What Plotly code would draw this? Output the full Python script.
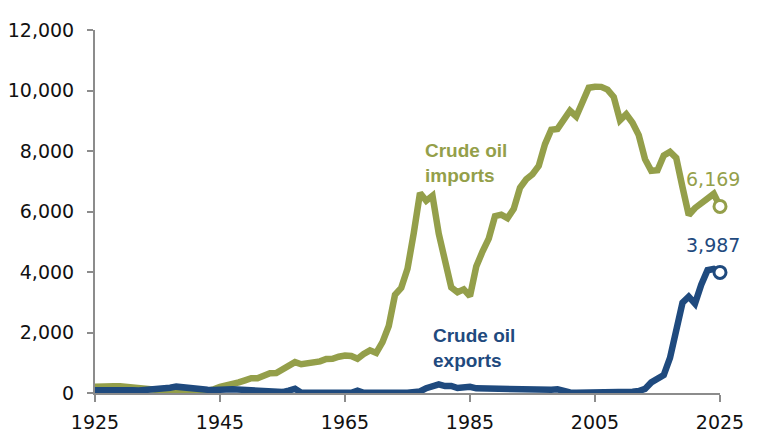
import plotly.graph_objects as go

# US crude oil imports / exports, thousand barrels per day
years = list(range(1925, 2026))

imports = [
    205, 195, 190, 225, 220, 200, 150, 120, 90, 95,
    85, 80, 60, 40, 60, 80, 110, 30, 50, 120,
    200, 240, 270, 350, 420, 490, 490, 570, 650, 660,
    780, 930, 1020, 950, 965, 1015, 1045, 1125, 1130, 1200,
    1240, 1225, 1130, 1290, 1410, 1325, 1680, 2215, 3245, 3475,
    4105, 5285, 6615, 6355, 6520, 5265, 4395, 3490, 3330, 3425,
    3200, 4180, 4675, 5105, 5845, 5895, 5780, 6085, 6785, 7065,
    7230, 7510, 8225, 8705, 8730, 9070, 9330, 9140, 9665, 10090,
    10125, 10120, 10030, 9785, 9015, 9215, 8935, 8525, 7730, 7345,
    7365, 7850, 7970, 7770, 6800, 5880, 6115, 6280, 6480, 6585,
    6169,
]

exports = [
    95, 100, 95, 100, 120, 100, 90, 80, 90, 105,
    120, 140, 175, 210, 190, 140, 100, 90, 110, 100,
    90, 115, 125, 110, 90, 95, 80, 70, 55, 35,
    30, 80, 140, 10, 10, 8, 10, 5, 5, 5,
    5, 5, 75, 5, 5, 15, 5, 5, 5, 5,
    5, 10, 50, 160, 235, 285, 230, 235, 165, 180,
    205, 155, 150, 155, 140, 110, 115, 90, 100, 100,
    95, 110, 110, 110, 120, 50, 20, 10, 10, 25,
    30, 25, 25, 30, 45, 40, 45, 65, 135, 350,
    465, 590, 1160, 2050, 2985, 3185, 2955, 3580, 4060, 4100,
    3987,
]

x_ticks = [1925, 1945, 1965, 1985, 2005, 2025]
y_ticks = [0, 2000, 4000, 6000, 8000, 10000, 12000]

GREEN = "#949F4A"
BLUE = "#1F4A7E"
AXIS = "#8C8C8C"
FONT = "DejaVu Sans"
LABEL_FONT = "Liberation Sans"

fig = go.Figure()

for vals, color in [(imports, GREEN), (exports, BLUE)]:
    fig.add_trace(go.Scatter(
        x=years, y=vals, mode="lines",
        line=dict(color=color, width=6.5),
        hoverinfo="skip", showlegend=False, cliponaxis=False,
    ))
    # last value: hollow marker
    fig.add_trace(go.Scatter(
        x=[years[-1]], y=[vals[-1]], mode="markers",
        marker=dict(size=12, color="white", line=dict(color=color, width=3)),
        hoverinfo="skip", showlegend=False, cliponaxis=False,
    ))
    fig.add_annotation(x=years[-1], y=vals[-1], text=f"{vals[-1]:,}", showarrow=False,
                       xshift=-7, yshift=27,
                       font=dict(family=FONT, size=19, color=color))

fig.add_annotation(x=1977.5, y=7620, text="<b>Crude oil<br>imports</b>", showarrow=False,
                   xanchor="left", yanchor="middle", align="left",
                   font=dict(family=LABEL_FONT, size=19, color=GREEN))
fig.add_annotation(x=1978.8, y=1490, text="<b>Crude oil<br>exports</b>", showarrow=False,
                   xanchor="left", yanchor="middle", align="left",
                   font=dict(family=LABEL_FONT, size=19, color=BLUE))

# page has an 8px body margin, so margins are offset to keep the plot in place
fig.update_layout(
    width=764, height=448,
    margin=dict(l=87, r=52, t=22, b=63),
    plot_bgcolor="white", paper_bgcolor="white",
    font=dict(family=FONT, size=19, color="#111111"),
    xaxis=dict(range=[1925, 2025], tickvals=x_ticks, showgrid=False, zeroline=False,
               showline=True, linecolor=AXIS, linewidth=2, ticklabelstandoff=4,
               automargin=False,
               ticks="outside", ticklen=7, tickwidth=2, tickcolor=AXIS),
    yaxis=dict(range=[0, 12000], tickvals=y_ticks, tickformat=",", showgrid=False,
               zeroline=False, showline=True, linecolor=AXIS, linewidth=2,
               ticklabelstandoff=9, automargin=False,
               ticks="outside", ticklen=6, tickwidth=2, tickcolor=AXIS),
)

fig.write_html("out.html")
